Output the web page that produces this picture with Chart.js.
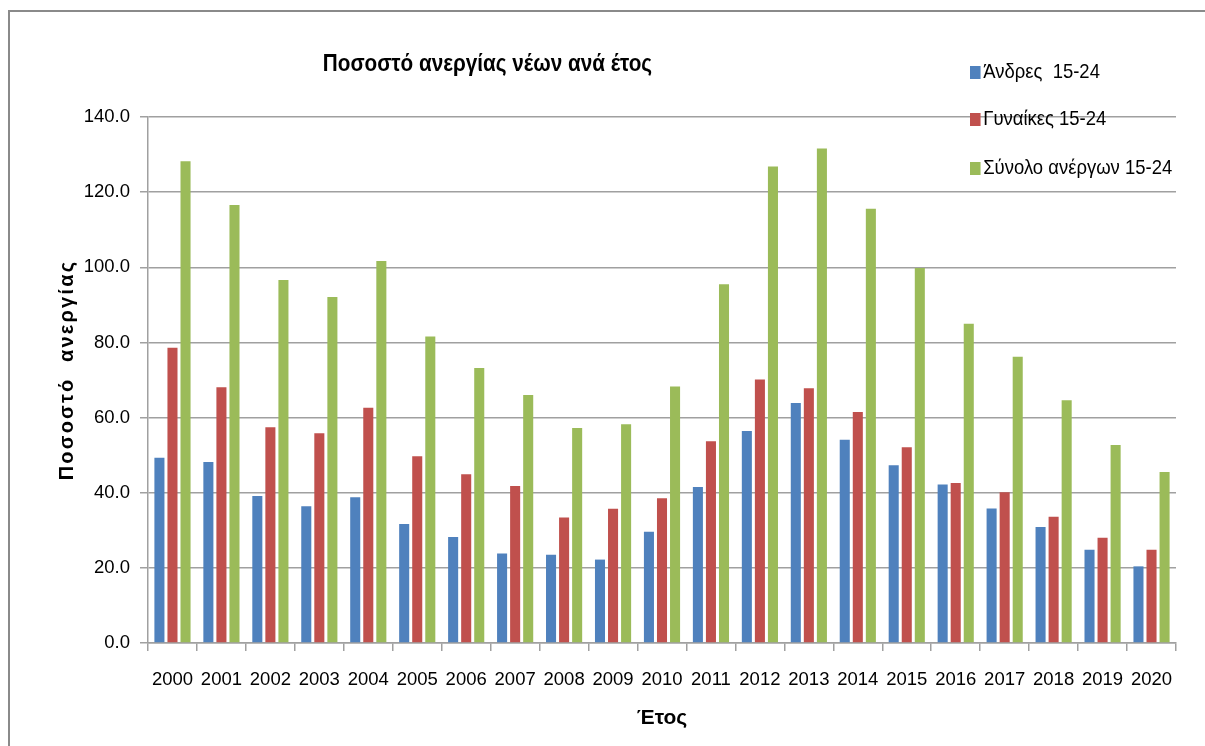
<!DOCTYPE html>
<html>
<head>
  <meta charset="utf-8">
  <title>Ποσοστό ανεργίας νέων ανά έτος</title>
  <style>
    html, body { margin: 0; padding: 0; background: #fff; }
    #wrap { position: relative; width: 1205px; height: 746px; overflow: hidden; }
    #frame {
      position: absolute; left: 8px; top: 10px; width: 1300px; height: 900px;
      border-left: 2px solid #8a8a8a; border-top: 2px solid #8a8a8a;
    }
    #chart { position: absolute; left: 0; top: 0; }
    #title {
      position: absolute; left: 0; width: 975px; top: 49px; text-align: center;
      font-family: "Liberation Sans", sans-serif;
      font-weight: bold; font-size: 23px; line-height: 28px; color: #000;
      transform: scaleX(0.9); transform-origin: 487px 0;
    }
    #ytitle {
      position: absolute; left: 66px; top: 370px; white-space: nowrap;
      font-family: "Liberation Sans", sans-serif; font-weight: bold;
      font-size: 20px; line-height: 22px; letter-spacing: 2.2px; color: #000;
      transform: translate(-50%, -50%) rotate(-90deg);
    }
    #legend { position: absolute; left: 970px; top: 0; }
    .item {
      position: absolute; left: 0; white-space: nowrap;
      font-family: "Liberation Sans", sans-serif;
      font-size: 21px; line-height: 24px; color: #000;
      transform: scaleX(0.88); transform-origin: 0 0;
    }
    .item span.box { display: inline-block; width: 12px; height: 13px; margin-right: 3px; vertical-align: -1px; }
  </style>
</head>
<body>
  <div id="wrap">
    <canvas id="chart" width="1205" height="746"></canvas>
    <div id="frame"></div>
    <div id="title">Ποσοστό ανεργίας νέων ανά έτος</div>
    <div id="ytitle">Ποσοστό&nbsp; ανεργίας</div>
    <div id="legend"></div>
  </div>

  <script src="https://cdn.jsdelivr.net/npm/chart.js"></script>
  <script>
    // values
    const years = ["2000", "2001", "2002", "2003", "2004", "2005", "2006", "2007", "2008", "2009", "2010",
                   "2011", "2012", "2013", "2014", "2015", "2016", "2017", "2018", "2019", "2020"];
    const men   = [49.3, 48.2, 39.1, 36.4, 38.8, 31.7, 28.2, 23.8, 23.5, 22.2, 29.6,
                   41.5, 56.4, 63.9, 54.1, 47.3, 42.2, 35.8, 30.9, 24.8, 20.4];
    const women = [78.6, 68.1, 57.4, 55.8, 62.6, 49.7, 44.9, 41.8, 33.4, 35.7, 38.5,
                   53.7, 70.1, 67.8, 61.5, 52.1, 42.6, 40.1, 33.6, 28.0, 24.8];
    const total = [128.2, 116.6, 96.6, 92.1, 101.7, 81.6, 73.2, 66.0, 57.2, 58.2, 68.3,
                   95.5, 126.8, 131.6, 115.6, 99.8, 85.0, 76.2, 64.6, 52.7, 45.5];
    const seriesNames = ["Άνδρες  15-24", "Γυναίκες 15-24", "Σύνολο ανέργων 15-24"];
    const colors = ["#4F81BD", "#C0504D", "#9BBB59"];

    const gridColor = "#a0a0a0";
    const sans = "'Liberation Sans', sans-serif";

    const datasets = [men, women, total].map((d, i) => ({
      label: seriesNames[i],
      data: d,
      backgroundColor: colors[i],
      categoryPercentage: 0.8,
      barPercentage: 0.77
    }));

    const chart = new Chart(document.getElementById("chart"), {
      type: "bar",
      data: { labels: years, datasets: datasets },
      options: {
        responsive: false,
        devicePixelRatio: 1,
        animation: false,
        layout: { padding: { top: 117, left: 20, right: 29, bottom: 0 } },
        plugins: {
          legend: { display: false },
          title: { display: false },
          tooltip: { enabled: false }
        },
        scales: {
          x: {
            grid: { offset: true, drawOnChartArea: false, color: gridColor, tickLength: 8, lineWidth: 1.5 },
            border: { color: gridColor, width: 1.5 },
            ticks: { color: "#000", font: { family: sans, size: 18.5 }, padding: 18, maxRotation: 0, autoSkip: false },
            title: {
              display: true, text: "Έτος", color: "#000",
              font: { family: sans, size: 21, weight: "bold" },
              padding: { top: 0, bottom: 15 }
            },
            afterFit: (s) => { s.height = 103; }
          },
          y: {
            min: 0, max: 140,
            grid: { color: gridColor, tickLength: 8, lineWidth: 1.5 },
            border: { color: gridColor, width: 1.5 },
            ticks: {
              stepSize: 20, color: "#000", padding: 10,
              font: { family: sans, size: 18.5 },
              callback: (v) => v.toFixed(1)
            },
            title: { display: false },
            afterFit: (s) => { s.width = 128; }
          }
        }
      }
    });

    // legend drawn as text next to the plot, from the datasets
    const legendEl = document.getElementById("legend");
    const rowTops = [59, 106, 155];
    chart.data.datasets.forEach((ds, i) => {
      const row = document.createElement("div");
      row.className = "item";
      row.style.top = rowTops[i] + "px";
      const box = document.createElement("span");
      box.className = "box";
      box.style.background = ds.backgroundColor;
      row.appendChild(box);
      row.appendChild(document.createTextNode(ds.label.replace(/ /g, "\u00a0")));
      legendEl.appendChild(row);
    });
  </script>
</body>
</html>
